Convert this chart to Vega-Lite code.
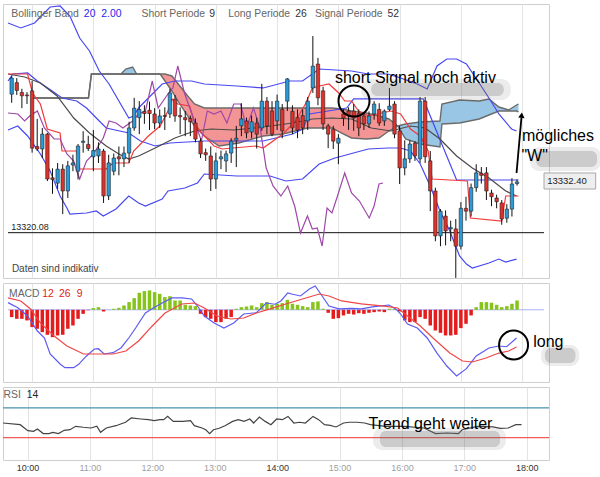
{
"$schema": "https://vega.github.io/schema/vega-lite/v6.json",
"background": "white",
"padding": {"left": 0, "top": 3, "right": 0, "bottom": 0},
"autosize": {"type": "pad"},
"spacing": 3,
"resolve": {"scale": {"color": "independent"}},
"config": {"view": {"stroke": "#cfcfcf"}, "font": "Liberation Sans"},
"datasets": {
"candles": [
{"m":580,"o":13353.7,"h":13358.1,"l":13351.6,"c":13357.6},
{"m":585,"o":13356.5,"h":13357.6,"l":13353.5,"c":13354.6},
{"m":590,"o":13354.1,"h":13355.0,"l":13350.3,"c":13353.3},
{"m":595,"o":13353.5,"h":13354.2,"l":13351.3,"c":13353.3},
{"m":600,"o":13354.5,"h":13356.9,"l":13339.5,"c":13340.6},
{"m":605,"o":13341.0,"h":13347.7,"l":13339.9,"c":13340.4},
{"m":610,"o":13340.4,"h":13345.5,"l":13338.2,"c":13344.0},
{"m":615,"o":13344.0,"h":13344.3,"l":13332.6,"c":13333.1},
{"m":620,"o":13333.4,"h":13335.7,"l":13329.5,"c":13333.0},
{"m":625,"o":13332.1,"h":13337.0,"l":13330.7,"c":13335.5},
{"m":630,"o":13335.5,"h":13336.7,"l":13324.6,"c":13330.2},
{"m":635,"o":13330.2,"h":13337.5,"l":13328.5,"c":13336.3},
{"m":640,"o":13336.5,"h":13339.0,"l":13335.0,"c":13337.0},
{"m":645,"o":13335.0,"h":13341.6,"l":13333.0,"c":13341.1},
{"m":650,"o":13342.0,"h":13344.7,"l":13339.5,"c":13342.3},
{"m":655,"o":13341.5,"h":13343.6,"l":13339.9,"c":13340.5},
{"m":660,"o":13338.5,"h":13345.0,"l":13335.0,"c":13340.0},
{"m":665,"o":13338.7,"h":13342.0,"l":13337.0,"c":13340.4},
{"m":670,"o":13339.9,"h":13340.4,"l":13327.3,"c":13329.0},
{"m":675,"o":13329.0,"h":13339.0,"l":13328.0,"c":13337.0},
{"m":680,"o":13335.0,"h":13339.3,"l":13334.0,"c":13338.2},
{"m":685,"o":13338.5,"h":13341.0,"l":13334.0,"c":13338.0},
{"m":690,"o":13338.0,"h":13341.0,"l":13336.0,"c":13339.4},
{"m":695,"o":13339.4,"h":13347.0,"l":13337.0,"c":13345.5},
{"m":700,"o":13345.5,"h":13352.8,"l":13344.8,"c":13350.3},
{"m":705,"o":13348.0,"h":13352.0,"l":13344.0,"c":13350.0},
{"m":710,"o":13349.5,"h":13351.0,"l":13346.5,"c":13349.0},
{"m":715,"o":13349.8,"h":13351.9,"l":13345.0,"c":13349.0},
{"m":720,"o":13348.9,"h":13350.3,"l":13345.2,"c":13346.7},
{"m":725,"o":13346.7,"h":13350.0,"l":13345.5,"c":13348.4},
{"m":730,"o":13348.5,"h":13350.5,"l":13345.0,"c":13348.3},
{"m":735,"o":13348.9,"h":13355.0,"l":13347.9,"c":13354.0},
{"m":740,"o":13352.5,"h":13353.5,"l":13347.0,"c":13348.4},
{"m":745,"o":13348.5,"h":13350.5,"l":13344.0,"c":13348.2},
{"m":750,"o":13348.0,"h":13349.6,"l":13343.5,"c":13347.5},
{"m":755,"o":13347.8,"h":13348.5,"l":13343.5,"c":13347.0},
{"m":760,"o":13346.7,"h":13347.8,"l":13342.0,"c":13342.8},
{"m":765,"o":13342.3,"h":13343.0,"l":13338.2,"c":13339.2},
{"m":770,"o":13339.5,"h":13340.5,"l":13337.5,"c":13339.0},
{"m":775,"o":13338.7,"h":13341.0,"l":13330.2,"c":13333.1},
{"m":780,"o":13333.1,"h":13339.5,"l":13330.7,"c":13337.5},
{"m":785,"o":13338.0,"h":13340.0,"l":13335.5,"c":13338.5},
{"m":790,"o":13337.5,"h":13340.0,"l":13334.8,"c":13339.2},
{"m":795,"o":13339.4,"h":13343.0,"l":13337.0,"c":13342.3},
{"m":800,"o":13342.5,"h":13346.0,"l":13336.0,"c":13343.0},
{"m":805,"o":13346.0,"h":13351.5,"l":13343.5,"c":13347.7},
{"m":810,"o":13347.2,"h":13348.0,"l":13343.0,"c":13344.3},
{"m":815,"o":13344.5,"h":13348.5,"l":13343.0,"c":13347.0},
{"m":820,"o":13346.7,"h":13348.0,"l":13340.5,"c":13344.0},
{"m":825,"o":13345.5,"h":13356.2,"l":13344.8,"c":13352.0},
{"m":830,"o":13352.0,"h":13353.0,"l":13344.0,"c":13346.0},
{"m":835,"o":13349.6,"h":13352.0,"l":13343.5,"c":13344.0},
{"m":840,"o":13347.2,"h":13353.6,"l":13345.0,"c":13352.0},
{"m":845,"o":13350.0,"h":13351.3,"l":13343.0,"c":13344.8},
{"m":850,"o":13352.0,"h":13357.6,"l":13349.6,"c":13357.4},
{"m":855,"o":13349.5,"h":13351.0,"l":13344.0,"c":13345.5},
{"m":860,"o":13348.0,"h":13350.0,"l":13343.0,"c":13345.0},
{"m":865,"o":13348.5,"h":13350.0,"l":13344.0,"c":13345.5},
{"m":870,"o":13347.2,"h":13353.0,"l":13345.0,"c":13352.0},
{"m":875,"o":13355.2,"h":13367.8,"l":13354.0,"c":13360.5},
{"m":880,"o":13361.0,"h":13362.5,"l":13351.0,"c":13352.8},
{"m":885,"o":13354.5,"h":13355.5,"l":13345.0,"c":13346.5},
{"m":890,"o":13346.0,"h":13346.5,"l":13340.6,"c":13344.0},
{"m":895,"o":13345.2,"h":13346.0,"l":13340.4,"c":13342.3},
{"m":900,"o":13341.8,"h":13344.0,"l":13336.7,"c":13343.0},
{"m":905,"o":13348.9,"h":13350.0,"l":13346.0,"c":13347.9},
{"m":910,"o":13349.6,"h":13350.5,"l":13345.0,"c":13348.4},
{"m":915,"o":13349.6,"h":13351.3,"l":13344.8,"c":13347.9},
{"m":920,"o":13349.0,"h":13350.0,"l":13343.5,"c":13345.5},
{"m":925,"o":13348.4,"h":13349.0,"l":13345.0,"c":13346.5},
{"m":930,"o":13346.5,"h":13349.5,"l":13345.5,"c":13348.4},
{"m":935,"o":13348.9,"h":13352.0,"l":13347.5,"c":13351.3},
{"m":940,"o":13350.0,"h":13351.5,"l":13346.0,"c":13346.7},
{"m":945,"o":13347.2,"h":13350.0,"l":13346.0,"c":13349.6},
{"m":950,"o":13350.0,"h":13355.2,"l":13349.6,"c":13350.8},
{"m":955,"o":13351.3,"h":13352.0,"l":13343.0,"c":13344.0},
{"m":960,"o":13344.8,"h":13346.0,"l":13331.9,"c":13335.8},
{"m":965,"o":13335.8,"h":13342.5,"l":13334.0,"c":13338.0},
{"m":970,"o":13338.0,"h":13342.5,"l":13337.0,"c":13341.6},
{"m":975,"o":13341.8,"h":13342.3,"l":13337.5,"c":13338.7},
{"m":980,"o":13338.0,"h":13353.0,"l":13337.0,"c":13352.0},
{"m":985,"o":13352.0,"h":13353.0,"l":13337.0,"c":13338.5},
{"m":990,"o":13337.5,"h":13339.9,"l":13325.3,"c":13330.2},
{"m":995,"o":13330.2,"h":13331.0,"l":13318.0,"c":13319.3},
{"m":1000,"o":13319.3,"h":13325.8,"l":13316.8,"c":13325.3},
{"m":1005,"o":13324.1,"h":13325.5,"l":13317.0,"c":13320.5},
{"m":1010,"o":13321.0,"h":13323.0,"l":13318.0,"c":13321.3},
{"m":1015,"o":13321.0,"h":13323.4,"l":13309.1,"c":13316.8},
{"m":1020,"o":13316.8,"h":13327.5,"l":13316.0,"c":13326.0},
{"m":1025,"o":13326.0,"h":13328.8,"l":13323.0,"c":13325.3},
{"m":1030,"o":13325.3,"h":13332.0,"l":13324.0,"c":13331.0},
{"m":1035,"o":13331.0,"h":13336.7,"l":13330.0,"c":13334.6},
{"m":1040,"o":13334.5,"h":13336.0,"l":13332.0,"c":13334.0},
{"m":1045,"o":13334.6,"h":13336.0,"l":13328.0,"c":13330.2},
{"m":1050,"o":13329.7,"h":13330.5,"l":13326.5,"c":13328.8},
{"m":1055,"o":13328.5,"h":13329.3,"l":13326.0,"c":13327.6},
{"m":1060,"o":13327.3,"h":13328.0,"l":13322.0,"c":13323.4},
{"m":1065,"o":13323.6,"h":13327.0,"l":13322.5,"c":13325.8},
{"m":1070,"o":13325.8,"h":13333.3,"l":13324.0,"c":13331.9},
{"m":1075,"o":13332.0,"h":13333.0,"l":13331.5,"c":13332.4}
],
"lines": [
{"s":"bbu","m":576.4,"p":13370.97},{"s":"bbu","m":588.9,"p":13369.76},{"s":"bbu","m":602.4,"p":13370.97},{"s":"bbu","m":617.7,"p":13374.85},{"s":"bbu","m":627.4,"p":13375.1},{"s":"bbu","m":637.0,"p":13372.67},{"s":"bbu","m":646.6,"p":13367.33},{"s":"bbu","m":656.2,"p":13364.17},{"s":"bbu","m":665.8,"p":13359.32},{"s":"bbu","m":675.4,"p":13356.17},{"s":"bbu","m":685.0,"p":13352.04},{"s":"bbu","m":694.7,"p":13347.91},{"s":"bbu","m":699.5,"p":13348.4},{"s":"bbu","m":704.3,"p":13350.34},{"s":"bbu","m":713.9,"p":13352.77},{"s":"bbu","m":727.4,"p":13356.17},{"s":"bbu","m":739.9,"p":13356.89},{"s":"bbu","m":756.2,"p":13356.89},{"s":"bbu","m":768.7,"p":13356.17},{"s":"bbu","m":800.4,"p":13355.68},{"s":"bbu","m":826.4,"p":13355.2},{"s":"bbu","m":852.4,"p":13356.89},{"s":"bbu","m":864.9,"p":13356.89},{"s":"bbu","m":881.2,"p":13359.8},{"s":"bbu","m":912.9,"p":13359.32},{"s":"bbu","m":929.3,"p":13358.59},{"s":"bbu","m":948.5,"p":13358.59},{"s":"bbu","m":961.0,"p":13357.62},{"s":"bbu","m":977.3,"p":13356.17},{"s":"bbu","m":987.0,"p":13354.95},{"s":"bbu","m":996.6,"p":13360.53},{"s":"bbu","m":1006.2,"p":13362.23},{"s":"bbu","m":1015.8,"p":13362.23},{"s":"bbu","m":1025.4,"p":13361.02},{"s":"bbu","m":1037.9,"p":13356.41},{"s":"bbu","m":1047.5,"p":13352.77},{"s":"bbu","m":1057.2,"p":13348.88},{"s":"bbu","m":1069.6,"p":13345.24},{"s":"bbu","m":1074.5,"p":13344.76},
{"s":"bbl","m":576.4,"p":13345.0},{"s":"bbl","m":586.0,"p":13345.97},{"s":"bbl","m":595.6,"p":13343.55},{"s":"bbl","m":608.1,"p":13339.18},{"s":"bbl","m":617.7,"p":13335.05},{"s":"bbl","m":627.4,"p":13328.98},{"s":"bbl","m":634.1,"p":13326.07},{"s":"bbl","m":637.0,"p":13324.61},{"s":"bbl","m":653.3,"p":13324.86},{"s":"bbl","m":662.9,"p":13325.34},{"s":"bbl","m":669.7,"p":13324.13},{"s":"bbl","m":682.2,"p":13325.83},{"s":"bbl","m":694.7,"p":13328.98},{"s":"bbl","m":704.3,"p":13327.28},{"s":"bbl","m":711.0,"p":13326.55},{"s":"bbl","m":727.4,"p":13328.25},{"s":"bbl","m":733.1,"p":13330.2},{"s":"bbl","m":749.5,"p":13330.93},{"s":"bbl","m":762.0,"p":13332.14},{"s":"bbl","m":768.7,"p":13334.32},{"s":"bbl","m":800.4,"p":13333.84},{"s":"bbl","m":833.1,"p":13333.84},{"s":"bbl","m":848.5,"p":13332.62},{"s":"bbl","m":864.9,"p":13333.11},{"s":"bbl","m":881.2,"p":13336.75},{"s":"bbl","m":896.6,"p":13338.2},{"s":"bbl","m":929.3,"p":13340.39},{"s":"bbl","m":948.5,"p":13340.63},{"s":"bbl","m":961.0,"p":13340.63},{"s":"bbl","m":970.6,"p":13339.9},{"s":"bbl","m":980.2,"p":13336.75},{"s":"bbl","m":989.9,"p":13331.41},{"s":"bbl","m":999.5,"p":13325.34},{"s":"bbl","m":1009.1,"p":13320.49},{"s":"bbl","m":1018.7,"p":13314.42},{"s":"bbl","m":1025.4,"p":13312.47},{"s":"bbl","m":1031.2,"p":13311.5},{"s":"bbl","m":1047.5,"p":13312.71},{"s":"bbl","m":1057.2,"p":13313.68},{"s":"bbl","m":1063.9,"p":13312.96},{"s":"bbl","m":1074.5,"p":13313.68},
{"s":"kij","m":576.4,"p":13356.89},{"s":"kij","m":581.2,"p":13358.59},{"s":"kij","m":595.6,"p":13358.84},{"s":"kij","m":605.2,"p":13356.89},{"s":"kij","m":619.7,"p":13354.47},{"s":"kij","m":629.3,"p":13352.77},{"s":"kij","m":643.7,"p":13352.04},{"s":"kij","m":653.3,"p":13350.34},{"s":"kij","m":665.8,"p":13347.19},{"s":"kij","m":672.6,"p":13345.49},{"s":"kij","m":694.7,"p":13344.27},{"s":"kij","m":706.2,"p":13342.33},{"s":"kij","m":720.6,"p":13341.12},{"s":"kij","m":735.0,"p":13341.85},{"s":"kij","m":768.7,"p":13342.33},{"s":"kij","m":826.4,"p":13342.33},{"s":"kij","m":855.2,"p":13344.03},{"s":"kij","m":864.9,"p":13345.24},{"s":"kij","m":871.6,"p":13348.88},{"s":"kij","m":908.1,"p":13350.34},{"s":"kij","m":914.9,"p":13352.53},{"s":"kij","m":983.1,"p":13352.53},{"s":"kij","m":1015.8,"p":13332.87},{"s":"kij","m":1076.4,"p":13332.87},
{"s":"ma","m":576.4,"p":13358.59},{"s":"ma","m":592.7,"p":13357.86},{"s":"ma","m":608.1,"p":13356.41},{"s":"ma","m":624.5,"p":13353.25},{"s":"ma","m":640.8,"p":13347.91},{"s":"ma","m":656.2,"p":13344.27},{"s":"ma","m":672.6,"p":13341.12},{"s":"ma","m":685.0,"p":13339.18},{"s":"ma","m":694.7,"p":13337.96},{"s":"ma","m":704.3,"p":13338.69},{"s":"ma","m":720.6,"p":13340.63},{"s":"ma","m":739.9,"p":13343.06},{"s":"ma","m":759.1,"p":13344.76},{"s":"ma","m":775.4,"p":13345.24},{"s":"ma","m":797.5,"p":13345.0},{"s":"ma","m":826.4,"p":13345.73},{"s":"ma","m":855.2,"p":13346.7},{"s":"ma","m":874.5,"p":13347.67},{"s":"ma","m":893.7,"p":13347.91},{"s":"ma","m":912.9,"p":13347.67},{"s":"ma","m":932.2,"p":13345.49},{"s":"ma","m":951.4,"p":13344.76},{"s":"ma","m":970.6,"p":13345.97},{"s":"ma","m":985.0,"p":13345.49},{"s":"ma","m":999.5,"p":13342.82},{"s":"ma","m":1015.8,"p":13338.69},{"s":"ma","m":1031.2,"p":13335.78},{"s":"ma","m":1047.5,"p":13333.35},{"s":"ma","m":1063.9,"p":13330.2},{"s":"ma","m":1074.5,"p":13328.98},
{"s":"ten","m":576.4,"p":13358.59},{"s":"ten","m":595.6,"p":13358.59},{"s":"ten","m":600.4,"p":13353.98},{"s":"ten","m":608.1,"p":13351.31},{"s":"ten","m":614.9,"p":13345.24},{"s":"ten","m":627.4,"p":13344.27},{"s":"ten","m":629.3,"p":13339.9},{"s":"ten","m":643.7,"p":13339.9},{"s":"ten","m":646.6,"p":13335.54},{"s":"ten","m":672.6,"p":13335.54},{"s":"ten","m":679.3,"p":13336.99},{"s":"ten","m":694.7,"p":13336.99},{"s":"ten","m":699.5,"p":13339.9},{"s":"ten","m":713.9,"p":13343.55},{"s":"ten","m":725.4,"p":13345.97},{"s":"ten","m":733.1,"p":13349.61},{"s":"ten","m":736.9,"p":13352.53},{"s":"ten","m":742.7,"p":13351.31},{"s":"ten","m":754.3,"p":13350.83},{"s":"ten","m":759.1,"p":13346.7},{"s":"ten","m":765.8,"p":13344.27},{"s":"ten","m":778.3,"p":13341.12},{"s":"ten","m":786.0,"p":13340.39},{"s":"ten","m":819.7,"p":13341.12},{"s":"ten","m":826.4,"p":13340.63},{"s":"ten","m":845.6,"p":13344.03},{"s":"ten","m":858.1,"p":13347.19},{"s":"ten","m":867.7,"p":13351.31},{"s":"ten","m":874.5,"p":13355.2},{"s":"ten","m":881.2,"p":13355.68},{"s":"ten","m":890.8,"p":13356.17},{"s":"ten","m":900.4,"p":13353.98},{"s":"ten","m":906.2,"p":13352.04},{"s":"ten","m":912.9,"p":13352.04},{"s":"ten","m":919.7,"p":13349.61},{"s":"ten","m":929.3,"p":13348.4},{"s":"ten","m":951.4,"p":13349.61},{"s":"ten","m":961.0,"p":13348.88},{"s":"ten","m":970.6,"p":13345.24},{"s":"ten","m":980.2,"p":13343.55},{"s":"ten","m":987.9,"p":13339.9},{"s":"ten","m":991.8,"p":13333.11},{"s":"ten","m":1026.4,"p":13332.62},{"s":"ten","m":1029.3,"p":13323.64},{"s":"ten","m":1060.0,"p":13322.91},{"s":"ten","m":1063.9,"p":13328.98},{"s":"ten","m":1076.4,"p":13328.98},
{"s":"chi","m":576.4,"p":13349.13},{"s":"chi","m":586.0,"p":13348.88},{"s":"chi","m":592.7,"p":13347.19},{"s":"chi","m":597.6,"p":13348.4},{"s":"chi","m":605.2,"p":13349.61},{"s":"chi","m":612.0,"p":13345.49},{"s":"chi","m":621.6,"p":13342.82},{"s":"chi","m":627.4,"p":13342.82},{"s":"chi","m":634.1,"p":13339.18},{"s":"chi","m":640.8,"p":13337.48},{"s":"chi","m":643.7,"p":13335.05},{"s":"chi","m":646.6,"p":13333.11},{"s":"chi","m":653.3,"p":13337.48},{"s":"chi","m":660.0,"p":13339.18},{"s":"chi","m":669.7,"p":13343.06},{"s":"chi","m":675.4,"p":13347.19},{"s":"chi","m":682.2,"p":13346.7},{"s":"chi","m":688.9,"p":13345.49},{"s":"chi","m":698.5,"p":13347.19},{"s":"chi","m":704.3,"p":13348.88},{"s":"chi","m":711.0,"p":13349.61},{"s":"chi","m":717.7,"p":13356.89},{"s":"chi","m":723.5,"p":13350.34},{"s":"chi","m":733.1,"p":13353.74},{"s":"chi","m":737.9,"p":13355.2},{"s":"chi","m":742.7,"p":13360.53},{"s":"chi","m":749.5,"p":13353.74},{"s":"chi","m":759.1,"p":13347.19},{"s":"chi","m":765.8,"p":13342.33},{"s":"chi","m":771.6,"p":13349.61},{"s":"chi","m":778.3,"p":13348.88},{"s":"chi","m":785.0,"p":13349.61},{"s":"chi","m":790.8,"p":13346.7},{"s":"chi","m":797.5,"p":13351.31},{"s":"chi","m":804.3,"p":13351.31},{"s":"chi","m":810.0,"p":13345.49},{"s":"chi","m":816.8,"p":13350.34},{"s":"chi","m":823.5,"p":13345.24},{"s":"chi","m":829.3,"p":13335.78},{"s":"chi","m":836.0,"p":13331.41},{"s":"chi","m":843.7,"p":13328.98},{"s":"chi","m":850.4,"p":13331.41},{"s":"chi","m":857.2,"p":13326.55},{"s":"chi","m":862.9,"p":13319.99},{"s":"chi","m":869.7,"p":13324.13},{"s":"chi","m":874.5,"p":13320.97},{"s":"chi","m":879.3,"p":13321.21},{"s":"chi","m":884.1,"p":13316.84},{"s":"chi","m":888.9,"p":13326.07},{"s":"chi","m":893.7,"p":13324.86},{"s":"chi","m":898.5,"p":13328.5},{"s":"chi","m":906.2,"p":13334.57},{"s":"chi","m":912.9,"p":13329.71},{"s":"chi","m":920.6,"p":13327.77},{"s":"chi","m":930.2,"p":13323.64},{"s":"chi","m":935.0,"p":13326.55},{"s":"chi","m":939.8,"p":13331.9},{"s":"chi","m":943.7,"p":13332.14}
],
"cloud": [
{"k":"n","m":600.4,"top":13352.77,"bot":13352.77},{"k":"n","m":655.2,"top":13352.77,"bot":13352.77},{"k":"n","m":658.1,"top":13358.59,"bot":13358.59},{"k":"n","m":725.4,"top":13358.59,"bot":13358.59},
{"k":"b1","m":687.0,"top":13358.59,"bot":13358.59},{"k":"b1","m":691.8,"top":13359.8,"bot":13358.59},{"k":"b1","m":698.5,"top":13360.29,"bot":13358.59},{"k":"b1","m":702.4,"top":13358.59,"bot":13358.59},
{"k":"r","m":725.4,"top":13358.59,"bot":13358.59},{"k":"r","m":730.2,"top":13358.59,"bot":13356.89},{"k":"r","m":736.9,"top":13358.11,"bot":13354.47},{"k":"r","m":744.7,"top":13355.68,"bot":13351.31},{"k":"r","m":752.4,"top":13353.25,"bot":13348.4},{"k":"r","m":759.1,"top":13351.31,"bot":13345.97},{"k":"r","m":768.7,"top":13350.34,"bot":13343.55},{"k":"r","m":783.1,"top":13350.34,"bot":13341.12},{"k":"r","m":802.4,"top":13350.34,"bot":13341.85},{"k":"r","m":826.4,"top":13350.34,"bot":13343.55},{"k":"r","m":845.6,"top":13350.34,"bot":13344.03},{"k":"r","m":869.7,"top":13350.34,"bot":13345.49},{"k":"r","m":893.7,"top":13350.34,"bot":13345.49},{"k":"r","m":903.3,"top":13350.1,"bot":13344.27},{"k":"r","m":912.9,"top":13349.61,"bot":13343.06},{"k":"r","m":927.3,"top":13349.13,"bot":13342.82},{"k":"r","m":939.8,"top":13348.4,"bot":13343.06},{"k":"r","m":949.5,"top":13347.67,"bot":13344.76},{"k":"r","m":958.1,"top":13345.97,"bot":13345.97},
{"k":"b","m":958.1,"top":13345.97,"bot":13345.97},{"k":"b","m":965.8,"top":13346.46,"bot":13342.82},{"k":"b","m":980.2,"top":13346.95,"bot":13341.6},{"k":"b","m":999.5,"top":13347.19,"bot":13340.88},{"k":"b","m":1001.4,"top":13351.31,"bot":13346.46},{"k":"b","m":1018.7,"top":13352.28,"bot":13346.7},{"k":"b","m":1037.9,"top":13352.04,"bot":13347.67},{"k":"b","m":1047.5,"top":13352.53,"bot":13348.64},{"k":"b","m":1057.2,"top":13350.58,"bot":13349.61},{"k":"b","m":1066.8,"top":13349.86,"bot":13349.61},{"k":"b","m":1074.5,"top":13351.07,"bot":13349.61},{"k":"b","m":1076.4,"top":13351.31,"bot":13349.37}
],
"hist": [
{"m":580,"v":-0.78},{"m":585,"v":-0.96},{"m":590,"v":-0.96},{"m":595,"v":-1.13},{"m":600,"v":-1.84},{"m":605,"v":-2.02},{"m":610,"v":-2.38},{"m":615,"v":-2.66},{"m":620,"v":-2.91},{"m":625,"v":-2.73},{"m":630,"v":-2.66},{"m":635,"v":-2.02},{"m":640,"v":-1.67},{"m":645,"v":-0.96},{"m":650,"v":-0.43},{"m":655,"v":-0.05},{"m":660,"v":0.18},{"m":665,"v":0.28},{"m":670,"v":-0.18},{"m":675,"v":0.02},{"m":680,"v":0.11},{"m":685,"v":0.21},{"m":690,"v":0.46},{"m":695,"v":0.82},{"m":700,"v":1.24},{"m":705,"v":1.81},{"m":710,"v":1.99},{"m":715,"v":2.06},{"m":720,"v":1.88},{"m":725,"v":1.70},{"m":730,"v":1.35},{"m":735,"v":1.45},{"m":740,"v":0.99},{"m":745,"v":0.99},{"m":750,"v":0.53},{"m":755,"v":0.46},{"m":760,"v":0.39},{"m":765,"v":-0.43},{"m":770,"v":-0.78},{"m":775,"v":-0.96},{"m":780,"v":-1.31},{"m":785,"v":-1.31},{"m":790,"v":-0.96},{"m":795,"v":-0.78},{"m":800,"v":0.11},{"m":805,"v":0.28},{"m":810,"v":0.35},{"m":815,"v":0.46},{"m":820,"v":0.28},{"m":825,"v":0.71},{"m":830,"v":0.82},{"m":835,"v":0.53},{"m":840,"v":0.64},{"m":845,"v":0.71},{"m":850,"v":1.06},{"m":855,"v":0.64},{"m":860,"v":0.53},{"m":865,"v":0.39},{"m":870,"v":0.28},{"m":875,"v":0.82},{"m":880,"v":0.89},{"m":885,"v":0.11},{"m":890,"v":-0.32},{"m":895,"v":-0.96},{"m":900,"v":-0.89},{"m":905,"v":-0.6},{"m":910,"v":-0.43},{"m":915,"v":-0.5},{"m":920,"v":-0.36},{"m":925,"v":-0.43},{"m":930,"v":-0.32},{"m":935,"v":-0.25},{"m":940,"v":-0.18},{"m":945,"v":-0.25},{"m":950,"v":0.11},{"m":955,"v":0.11},{"m":960,"v":-0.18},{"m":965,"v":-1.13},{"m":970,"v":-1.31},{"m":975,"v":-1.31},{"m":980,"v":-0.78},{"m":985,"v":-0.96},{"m":990,"v":-1.67},{"m":995,"v":-2.2},{"m":1000,"v":-2.45},{"m":1005,"v":-2.73},{"m":1010,"v":-2.73},{"m":1015,"v":-2.66},{"m":1020,"v":-1.95},{"m":1025,"v":-1.49},{"m":1030,"v":-0.6},{"m":1035,"v":0.28},{"m":1040,"v":0.82},{"m":1045,"v":0.82},{"m":1050,"v":0.75},{"m":1055,"v":0.53},{"m":1060,"v":0.28},{"m":1065,"v":0.39},{"m":1070,"v":0.64},{"m":1075,"v":0.99}
],
"macd": [
{"s":"macd","m":576.4,"v":0.76},{"s":"macd","m":586.0,"v":0.22},{"s":"macd","m":595.6,"v":-0.66},{"s":"macd","m":605.2,"v":-2.26},{"s":"macd","m":612.0,"v":-2.97},{"s":"macd","m":617.7,"v":-4.7},{"s":"macd","m":627.4,"v":-5.77},{"s":"macd","m":632.2,"v":-6.16},{"s":"macd","m":640.8,"v":-6.16},{"s":"macd","m":645.6,"v":-5.8},{"s":"macd","m":653.3,"v":-4.91},{"s":"macd","m":661.0,"v":-4.17},{"s":"macd","m":664.9,"v":-4.14},{"s":"macd","m":670.6,"v":-4.7},{"s":"macd","m":679.3,"v":-4.56},{"s":"macd","m":687.0,"v":-4.06},{"s":"macd","m":694.7,"v":-3.0},{"s":"macd","m":701.4,"v":-1.94},{"s":"macd","m":711.0,"v":-0.34},{"s":"macd","m":718.7,"v":0.19},{"s":"macd","m":727.4,"v":0.72},{"s":"macd","m":737.0,"v":1.26},{"s":"macd","m":746.6,"v":1.26},{"s":"macd","m":756.2,"v":1.15},{"s":"macd","m":762.0,"v":0.40},{"s":"macd","m":768.7,"v":-0.66},{"s":"macd","m":778.3,"v":-1.40},{"s":"macd","m":787.9,"v":-1.94},{"s":"macd","m":797.5,"v":-1.40},{"s":"macd","m":807.2,"v":-0.45},{"s":"macd","m":819.7,"v":-0.31},{"s":"macd","m":829.3,"v":0.72},{"s":"macd","m":837.9,"v":0.59},{"s":"macd","m":843.7,"v":0.94},{"s":"macd","m":850.4,"v":1.79},{"s":"macd","m":855.2,"v":1.65},{"s":"macd","m":862.9,"v":1.47},{"s":"macd","m":871.6,"v":2.21},{"s":"macd","m":877.3,"v":2.53},{"s":"macd","m":884.1,"v":1.47},{"s":"macd","m":890.8,"v":0.40},{"s":"macd","m":900.4,"v":0.09},{"s":"macd","m":912.9,"v":0.16},{"s":"macd","m":922.5,"v":0.09},{"s":"macd","m":935.0,"v":0.33},{"s":"macd","m":949.5,"v":0.51},{"s":"macd","m":956.2,"v":0.09},{"s":"macd","m":961.0,"v":-0.45},{"s":"macd","m":967.7,"v":-1.51},{"s":"macd","m":977.3,"v":-1.94},{"s":"macd","m":987.0,"v":-3.0},{"s":"macd","m":996.6,"v":-4.6},{"s":"macd","m":1006.2,"v":-5.98},{"s":"macd","m":1015.8,"v":-7.04},{"s":"macd","m":1025.4,"v":-6.26},{"s":"macd","m":1035.0,"v":-4.91},{"s":"macd","m":1047.5,"v":-4.06},{"s":"macd","m":1057.2,"v":-3.85},{"s":"macd","m":1064.8,"v":-3.93},{"s":"macd","m":1074.5,"v":-3.0},
{"s":"sig","m":576.4,"v":1.26},{"s":"sig","m":588.9,"v":0.94},{"s":"sig","m":598.5,"v":0.09},{"s":"sig","m":608.1,"v":-1.40},{"s":"sig","m":621.6,"v":-2.79},{"s":"sig","m":634.1,"v":-3.85},{"s":"sig","m":650.4,"v":-4.7},{"s":"sig","m":665.8,"v":-4.7},{"s":"sig","m":679.3,"v":-4.7},{"s":"sig","m":691.8,"v":-4.38},{"s":"sig","m":704.3,"v":-3.32},{"s":"sig","m":717.7,"v":-1.72},{"s":"sig","m":730.2,"v":-0.34},{"s":"sig","m":746.6,"v":0.62},{"s":"sig","m":759.1,"v":0.72},{"s":"sig","m":768.7,"v":0.19},{"s":"sig","m":781.2,"v":-0.66},{"s":"sig","m":794.7,"v":-0.98},{"s":"sig","m":807.2,"v":-0.87},{"s":"sig","m":819.7,"v":-0.34},{"s":"sig","m":833.1,"v":0.09},{"s":"sig","m":848.5,"v":0.62},{"s":"sig","m":864.9,"v":1.15},{"s":"sig","m":881.2,"v":1.68},{"s":"sig","m":890.8,"v":1.47},{"s":"sig","m":903.3,"v":0.94},{"s":"sig","m":922.5,"v":0.62},{"s":"sig","m":944.6,"v":0.40},{"s":"sig","m":958.1,"v":0.19},{"s":"sig","m":967.7,"v":-0.66},{"s":"sig","m":980.2,"v":-1.72},{"s":"sig","m":992.7,"v":-3.0},{"s":"sig","m":1009.1,"v":-4.6},{"s":"sig","m":1021.6,"v":-5.45},{"s":"sig","m":1031.2,"v":-5.55},{"s":"sig","m":1044.6,"v":-5.13},{"s":"sig","m":1057.2,"v":-4.6},{"s":"sig","m":1066.8,"v":-4.38},{"s":"sig","m":1074.5,"v":-3.96}
],
"rsi": [
{"m":576.4,"v":49.7},{"m":592.9,"v":47.5},{"m":600.3,"v":39.4},{"m":605.8,"v":38.6},{"m":609.5,"v":41.7},{"m":615.1,"v":35.5},{"m":620.5,"v":35.5},{"m":624.3,"v":37.2},{"m":629.8,"v":35.5},{"m":635.2,"v":39.9},{"m":640.8,"v":40.7},{"m":646.3,"v":45.3},{"m":653.7,"v":44.0},{"m":661.0,"v":43.0},{"m":666.6,"v":45.3},{"m":670.2,"v":37.2},{"m":675.7,"v":43.0},{"m":685.0,"v":46.1},{"m":694.2,"v":50.7},{"m":699.7,"v":56.5},{"m":708.9,"v":55.1},{"m":716.2,"v":54.2},{"m":721.8,"v":52.8},{"m":727.3,"v":54.2},{"m":730.9,"v":54.2},{"m":734.7,"v":58.6},{"m":740.1,"v":51.9},{"m":749.4,"v":51.9},{"m":756.7,"v":52.8},{"m":760.4,"v":46.1},{"m":767.7,"v":43.0},{"m":771.4,"v":40.7},{"m":775.1,"v":35.5},{"m":778.8,"v":40.7},{"m":784.3,"v":42.6},{"m":789.9,"v":46.1},{"m":797.2,"v":51.9},{"m":802.7,"v":54.2},{"m":808.2,"v":51.9},{"m":813.7,"v":55.1},{"m":817.4,"v":49.7},{"m":822.9,"v":57.8},{"m":828.5,"v":51.9},{"m":834.0,"v":47.5},{"m":839.5,"v":55.1},{"m":845.0,"v":54.2},{"m":850.5,"v":58.6},{"m":856.1,"v":49.7},{"m":861.6,"v":50.7},{"m":867.1,"v":49.7},{"m":874.5,"v":58.6},{"m":879.9,"v":54.2},{"m":885.5,"v":47.5},{"m":891.0,"v":46.6},{"m":896.6,"v":44.4},{"m":903.9,"v":49.7},{"m":909.4,"v":50.7},{"m":916.8,"v":50.7},{"m":924.1,"v":49.7},{"m":929.7,"v":47.5},{"m":944.4,"v":45.3},{"m":962.7,"v":45.3},{"m":981.2,"v":43.0},{"m":992.3,"v":35.5},{"m":1003.2,"v":36.3},{"m":1014.3,"v":35.5},{"m":1017.9,"v":40.7},{"m":1032.7,"v":45.3},{"m":1047.4,"v":44.4},{"m":1054.7,"v":42.6},{"m":1062.2,"v":43.0},{"m":1069.5,"v":47.5},{"m":1075.0,"v":47.5}
]
},
"vconcat": [
{
"width": 546, "height": 274,
"resolve": {"scale": {"color": "independent"}},
"encoding": {"x": {"field": "m", "type": "quantitative", "scale": {"domain": [576.4, 1101.4], "nice": false, "zero": false}, "axis": {"values": [600,660,720,780,840,900,960,1020,1080], "labels": false, "ticks": false, "domain": false, "title": null, "grid": true, "gridColor": "#e3e3e3", "zindex": 0, "labelPadding": 0, "maxExtent": 0, "minExtent": 0}}},
"layer": [
{"data": {"name": "cloud"}, "mark": {"type": "area", "opacity": 0.9},
 "encoding": {"y": {"field": "top", "type": "quantitative", "scale": {"domain": [13309.08, 13375.58], "nice": false, "zero": false}, "axis": {"orient": "right", "values": [13310,13320,13330,13340,13350,13360,13370], "format": ".2f", "title": null, "grid": true, "gridColor": "#e3e3e3", "ticks": false, "domain": false, "labelPadding": 4, "labelFontSize": 9, "labelColor": "#333", "zindex": 0}},
  "y2": {"field": "bot"},
  "color": {"field": "k", "type": "nominal", "scale": {"domain": ["r","b","b1","n"], "range": ["#f38a8a","#8ec0e2","#8ec0e2","rgba(0,0,0,0)"]}, "legend": null}}},
{"data": {"name": "cloud"}, "mark": {"type": "line", "color": "#6b6b6b", "strokeWidth": 1.4},
 "encoding": {"y": {"field": "top", "type": "quantitative", "scale": {"domain": [13309.08, 13375.58], "nice": false, "zero": false}, "axis": null}, "detail": {"field": "k"}}},
{"data": {"name": "cloud"}, "mark": {"type": "line", "color": "#6b6b6b", "strokeWidth": 1.4},
 "encoding": {"y": {"field": "bot", "type": "quantitative", "scale": {"domain": [13309.08, 13375.58], "nice": false, "zero": false}, "axis": null}, "detail": {"field": "k"}}},
{"data": {"values": [{"m": 576.4, "p": 13320.08}, {"m": 1101.4, "p": 13320.08}]}, "mark": {"type": "line", "color": "#111", "strokeWidth": 1},
 "encoding": {"y": {"field": "p", "type": "quantitative", "scale": {"domain": [13309.08, 13375.58], "nice": false, "zero": false}, "axis": null}}},
{"data": {"name": "lines"}, "mark": {"type": "line", "strokeWidth": 1.2},
 "encoding": {"y": {"field": "p", "type": "quantitative", "scale": {"domain": [13309.08, 13375.58], "nice": false, "zero": false}, "axis": null},
  "color": {"field": "s", "type": "nominal", "scale": {"domain": ["bbu","bbl","kij","ma","ten","chi"], "range": ["#4848f2","#4848f2","#4848f2","#4a4a4a","#f23a3a","#9e48a8"]}, "legend": null}}},
{"data": {"name": "candles"}, "mark": {"type": "rule", "color": "#111", "strokeWidth": 1},
 "encoding": {"y": {"field": "l", "type": "quantitative", "scale": {"domain": [13309.08, 13375.58], "nice": false, "zero": false}, "axis": null}, "y2": {"field": "h"}}},
{"data": {"name": "candles"}, "mark": {"type": "bar", "width": 3.4, "stroke": "#222", "strokeWidth": 0.6},
 "encoding": {"y": {"field": "o", "type": "quantitative", "scale": {"domain": [13309.08, 13375.58], "nice": false, "zero": false}, "axis": null}, "y2": {"field": "c"},
  "color": {"condition": {"test": "datum.c >= datum.o", "value": "#2a9ad8"}, "value": "#e0322c"}}},
{"data": {"values": [{"m": 579.6, "p": 13373.08, "t": "Bollinger Band"}, {"m": 707.2, "p": 13373.08, "t": "Short Periode"}, {"m": 792.1, "p": 13373.08, "t": "Long Periode"}, {"m": 877.1, "p": 13373.08, "t": "Signal Periode"}]},
 "mark": {"type": "text", "align": "left", "baseline": "middle", "fontSize": 10.4, "color": "#666"},
 "encoding": {"y": {"field": "p", "type": "quantitative", "scale": {"domain": [13309.08, 13375.58], "nice": false, "zero": false}, "axis": null}, "text": {"field": "t"}}},
{"data": {"values": [{"m": 650.7, "p": 13373.08, "t": "20"}, {"m": 667.7, "p": 13373.08, "t": "2.00"}]},
 "mark": {"type": "text", "align": "left", "baseline": "middle", "fontSize": 10.4, "color": "#2424e8"},
 "encoding": {"y": {"field": "p", "type": "quantitative", "scale": {"domain": [13309.08, 13375.58], "nice": false, "zero": false}, "axis": null}, "text": {"field": "t"}}},
{"data": {"values": [{"m": 773.5, "p": 13373.08, "t": "9"}, {"m": 857.8, "p": 13373.08, "t": "26"}, {"m": 948.2, "p": 13373.08, "t": "52"}]},
 "mark": {"type": "text", "align": "left", "baseline": "middle", "fontSize": 10.4, "color": "#333"},
 "encoding": {"y": {"field": "p", "type": "quantitative", "scale": {"domain": [13309.08, 13375.58], "nice": false, "zero": false}, "axis": null}, "text": {"field": "t"}}},
{"data": {"values": [{"m": 579.6, "p": 13320.66, "t": "13320.08"}]},
 "mark": {"type": "text", "align": "left", "baseline": "alphabetic", "fontSize": 9, "color": "#222"},
 "encoding": {"y": {"field": "p", "type": "quantitative", "scale": {"domain": [13309.08, 13375.58], "nice": false, "zero": false}, "axis": null}, "text": {"field": "t"}}},
{"data": {"values": [{"m": 580.2, "p": 13310.54, "t": "Daten sind indikativ"}]},
 "mark": {"type": "text", "align": "left", "baseline": "alphabetic", "fontSize": 10, "color": "#444"},
 "encoding": {"y": {"field": "p", "type": "quantitative", "scale": {"domain": [13309.08, 13375.58], "nice": false, "zero": false}, "axis": null}, "text": {"field": "t"}}},
{"data": {"values": [{"m": 1101.4, "m2": 1152, "p": 13330.68, "p2": 13334.57}]},
 "mark": {"type": "rect", "fill": "#eeeeee", "stroke": "#a8a8a8", "strokeWidth": 1},
 "encoding": {"x2": {"field": "m2"}, "y": {"field": "p", "type": "quantitative", "scale": {"domain": [13309.08, 13375.58], "nice": false, "zero": false}, "axis": null}, "y2": {"field": "p2"}}},
{"data": {"values": [{"m": 1104.5, "p": 13332.62, "t": "13332.40"}]},
 "mark": {"type": "text", "align": "left", "baseline": "middle", "fontSize": 9.5, "color": "#222"},
 "encoding": {"y": {"field": "p", "type": "quantitative", "scale": {"domain": [13309.08, 13375.58], "nice": false, "zero": false}, "axis": null}, "text": {"field": "t"}}},
{"data": {"values": [{"m": 922.5, "m2": 1068.7, "p": 13357.38, "p2": 13352.28}, {"m": 1087.9, "m2": 1157.1, "p": 13340.88, "p2": 13335.05}]},
 "mark": {"type": "rect", "fill": "#777", "opacity": 0.14, "cornerRadius": 9},
 "encoding": {"x2": {"field": "m2"}, "y": {"field": "p", "type": "quantitative", "scale": {"domain": [13309.08, 13375.58], "nice": false, "zero": false}, "axis": null}, "y2": {"field": "p2"}}},
{"data": {"values": [{"m": 932.2, "m2": 1062.0, "p": 13356.41, "p2": 13353.25}, {"m": 1093.7, "m2": 1153.3, "p": 13339.9, "p2": 13336.02}]},
 "mark": {"type": "rect", "fill": "#666", "opacity": 0.25, "cornerRadius": 6},
 "encoding": {"x2": {"field": "m2"}, "y": {"field": "p", "type": "quantitative", "scale": {"domain": [13309.08, 13375.58], "nice": false, "zero": false}, "axis": null}, "y2": {"field": "p2"}}},
{"data": {"values": [{"m": 896.6, "p": 13356.48, "t": "short Signal noch aktiv"}, {"m": 1079.8, "p": 13342.45, "t": "mögliches"}, {"m": 1079.3, "p": 13337.48, "t": "\"W\""}]},
 "mark": {"type": "text", "align": "left", "baseline": "alphabetic", "fontSize": 16, "color": "#000"},
 "encoding": {"y": {"field": "p", "type": "quantitative", "scale": {"domain": [13309.08, 13375.58], "nice": false, "zero": false}, "axis": null}, "text": {"field": "t"}}},
{"data": {"values": [{"m": 915.3, "p": 13352.04}]},
 "mark": {"type": "point", "shape": "circle", "size": 961, "filled": false, "stroke": "#000", "strokeWidth": 2, "opacity": 1},
 "encoding": {"y": {"field": "p", "type": "quantitative", "scale": {"domain": [13309.08, 13375.58], "nice": false, "zero": false}, "axis": null}}},
{"data": {"values": [{"m": 1074.5, "p": 13334.57, "m2": 1079.3, "p2": 13348.0}]},
 "mark": {"type": "rule", "color": "#000", "strokeWidth": 1.8},
 "encoding": {"x2": {"field": "m2"}, "y": {"field": "p", "type": "quantitative", "scale": {"domain": [13309.08, 13375.58], "nice": false, "zero": false}, "axis": null}, "y2": {"field": "p2"}}},
{"data": {"values": [{"m": 1079.5, "p": 13348.6}]},
 "mark": {"type": "point", "shape": "triangle-up", "size": 40, "filled": true, "color": "#000", "opacity": 1, "angle": 5},
 "encoding": {"y": {"field": "p", "type": "quantitative", "scale": {"domain": [13309.08, 13375.58], "nice": false, "zero": false}, "axis": null}}}
]
},
{
"width": 546, "height": 99,
"resolve": {"scale": {"color": "independent"}},
"encoding": {"x": {"field": "m", "type": "quantitative", "scale": {"domain": [576.4, 1101.4], "nice": false, "zero": false}, "axis": {"values": [600,660,720,780,840,900,960,1020,1080], "labels": false, "ticks": false, "domain": false, "title": null, "grid": true, "gridColor": "#e3e3e3", "zindex": 0, "labelPadding": 0, "maxExtent": 0, "minExtent": 0}}},
"layer": [
{"data": {"values": [{"m": 576.4, "v": 0}, {"m": 1101.4, "v": 0}]}, "mark": {"type": "line", "color": "#a9b2ff", "strokeWidth": 1},
 "encoding": {"y": {"field": "v", "type": "quantitative", "scale": {"domain": [-7.68, 2.85], "nice": false, "zero": false},
  "axis": {"orient": "right", "values": [1,-1,-3,-5,-7], "labelExpr": "datum.value < 0 ? '-' + abs(datum.value) : '' + datum.value", "title": null, "grid": true, "gridColor": "#e3e3e3", "ticks": false, "domain": false, "labelPadding": 4, "labelFontSize": 9, "labelColor": "#333", "zindex": 0}}}},
{"data": {"name": "hist"}, "mark": {"type": "bar", "width": 3.5},
 "encoding": {"y": {"field": "v", "type": "quantitative", "scale": {"domain": [-7.68, 2.85], "nice": false, "zero": false}, "axis": null}, "y2": {"datum": 0},
  "color": {"condition": {"test": "datum.v >= 0", "value": "#86c41c"}, "value": "#e41c1c"}}},
{"data": {"name": "macd"}, "mark": {"type": "line", "strokeWidth": 1.2},
 "encoding": {"y": {"field": "v", "type": "quantitative", "scale": {"domain": [-7.68, 2.85], "nice": false, "zero": false}, "axis": null},
  "color": {"field": "s", "type": "nominal", "scale": {"domain": ["macd","sig"], "range": ["#5b5bf2","#f04646"]}, "legend": null}}},
{"data": {"values": [{"m": 577.4, "v": 1.65, "t": "MACD"}]},
 "mark": {"type": "text", "align": "left", "baseline": "middle", "fontSize": 10.4, "color": "#666"},
 "encoding": {"y": {"field": "v", "type": "quantitative", "scale": {"domain": [-7.68, 2.85], "nice": false, "zero": false}, "axis": null}, "text": {"field": "t"}}},
{"data": {"values": [{"m": 610.0, "v": 1.65, "t": "12"}, {"m": 626.4, "v": 1.65, "t": "26"}, {"m": 643.7, "v": 1.65, "t": "9"}]},
 "mark": {"type": "text", "align": "left", "baseline": "middle", "fontSize": 10.4, "color": "#e02020"},
 "encoding": {"y": {"field": "v", "type": "quantitative", "scale": {"domain": [-7.68, 2.85], "nice": false, "zero": false}, "axis": null}, "text": {"field": "t"}}},
{"data": {"values": [{"m": 1098.5, "m2": 1136.0, "v": -3.74, "v2": -5.98}]},
 "mark": {"type": "rect", "fill": "#777", "opacity": 0.14, "cornerRadius": 9},
 "encoding": {"x2": {"field": "m2"}, "y": {"field": "v", "type": "quantitative", "scale": {"domain": [-7.68, 2.85], "nice": false, "zero": false}, "axis": null}, "y2": {"field": "v2"}}},
{"data": {"values": [{"m": 1102.3, "m2": 1132.2, "v": -4.06, "v2": -5.66}]},
 "mark": {"type": "rect", "fill": "#666", "opacity": 0.25, "cornerRadius": 6},
 "encoding": {"x2": {"field": "m2"}, "y": {"field": "v", "type": "quantitative", "scale": {"domain": [-7.68, 2.85], "nice": false, "zero": false}, "axis": null}, "y2": {"field": "v2"}}},
{"data": {"values": [{"m": 1090.8, "v": -4.01, "t": "long"}]},
 "mark": {"type": "text", "align": "left", "baseline": "alphabetic", "fontSize": 16, "color": "#000"},
 "encoding": {"y": {"field": "v", "type": "quantitative", "scale": {"domain": [-7.68, 2.85], "nice": false, "zero": false}, "axis": null}, "text": {"field": "t"}}},
{"data": {"values": [{"m": 1071.6, "v": -3.74}]},
 "mark": {"type": "point", "shape": "circle", "size": 841, "filled": false, "stroke": "#000", "strokeWidth": 2, "opacity": 1},
 "encoding": {"y": {"field": "v", "type": "quantitative", "scale": {"domain": [-7.68, 2.85], "nice": false, "zero": false}, "axis": null}}}
]
},
{
"width": 546, "height": 73,
"resolve": {"scale": {"color": "independent"}},
"encoding": {"x": {"field": "m", "type": "quantitative", "scale": {"domain": [576.4, 1101.4], "nice": false, "zero": false},
 "axis": {"values": [600,660,720,780,840,900,960,1020,1080], "labelExpr": "floor(datum.value / 60) + ':00'", "labelFontSize": 9, "labelPadding": 3,
  "labelColor": {"condition": {"test": "datum.value == 600 || datum.value == 840 || datum.value == 1080", "value": "#333"}, "value": "#a0a0a0"},
  "ticks": false, "domain": false, "title": null, "grid": true, "gridColor": "#e3e3e3", "zindex": 0}}},
"layer": [
{"data": {"values": [{"m": 576.4, "v": 70, "s": "a"}, {"m": 1101.4, "v": 70, "s": "a"}, {"m": 576.4, "v": 30, "s": "b"}, {"m": 1101.4, "v": 30, "s": "b"}]},
 "mark": {"type": "line", "strokeWidth": 1.2},
 "encoding": {"y": {"field": "v", "type": "quantitative", "scale": {"domain": [0, 98.1], "nice": false, "zero": false},
  "axis": {"orient": "right", "values": [80, 40, 0], "title": null, "grid": true, "gridColor": "#e3e3e3", "ticks": false, "domain": false, "labelPadding": 4, "labelFontSize": 9, "labelColor": "#333", "zindex": 0}},
  "color": {"field": "s", "type": "nominal", "scale": {"domain": ["a","b"], "range": ["#4a92ad","#f25a5a"]}, "legend": null}}},
{"data": {"name": "rsi"}, "mark": {"type": "line", "color": "#444", "strokeWidth": 1.2},
 "encoding": {"y": {"field": "v", "type": "quantitative", "scale": {"domain": [0, 98.1], "nice": false, "zero": false}, "axis": null}}},
{"data": {"values": [{"m": 576.9, "v": 87.4, "t": "RSI"}]},
 "mark": {"type": "text", "align": "left", "baseline": "middle", "fontSize": 10.4, "color": "#666"},
 "encoding": {"y": {"field": "v", "type": "quantitative", "scale": {"domain": [0, 98.1], "nice": false, "zero": false}, "axis": null}, "text": {"field": "t"}}},
{"data": {"values": [{"m": 599.2, "v": 87.4, "t": "14"}]},
 "mark": {"type": "text", "align": "left", "baseline": "middle", "fontSize": 10.4, "color": "#222"},
 "encoding": {"y": {"field": "v", "type": "quantitative", "scale": {"domain": [0, 98.1], "nice": false, "zero": false}, "axis": null}, "text": {"field": "t"}}},
{"data": {"values": [{"m": 932.2, "m2": 1060.0, "v": 43.0, "v2": 13.4}]},
 "mark": {"type": "rect", "fill": "#777", "opacity": 0.14, "cornerRadius": 9},
 "encoding": {"x2": {"field": "m2"}, "y": {"field": "v", "type": "quantitative", "scale": {"domain": [0, 98.1], "nice": false, "zero": false}, "axis": null}, "y2": {"field": "v2"}}},
{"data": {"values": [{"m": 938.9, "m2": 1054.3, "v": 39.0, "v2": 17.5}]},
 "mark": {"type": "rect", "fill": "#666", "opacity": 0.25, "cornerRadius": 6},
 "encoding": {"x2": {"field": "m2"}, "y": {"field": "v", "type": "quantitative", "scale": {"domain": [0, 98.1], "nice": false, "zero": false}, "axis": null}, "y2": {"field": "v2"}}},
{"data": {"values": [{"m": 927.8, "v": 41.7, "t": "Trend geht weiter"}]},
 "mark": {"type": "text", "align": "left", "baseline": "alphabetic", "fontSize": 16, "color": "#000"},
 "encoding": {"y": {"field": "v", "type": "quantitative", "scale": {"domain": [0, 98.1], "nice": false, "zero": false}, "axis": null}, "text": {"field": "t"}}}
]
}
]
}
